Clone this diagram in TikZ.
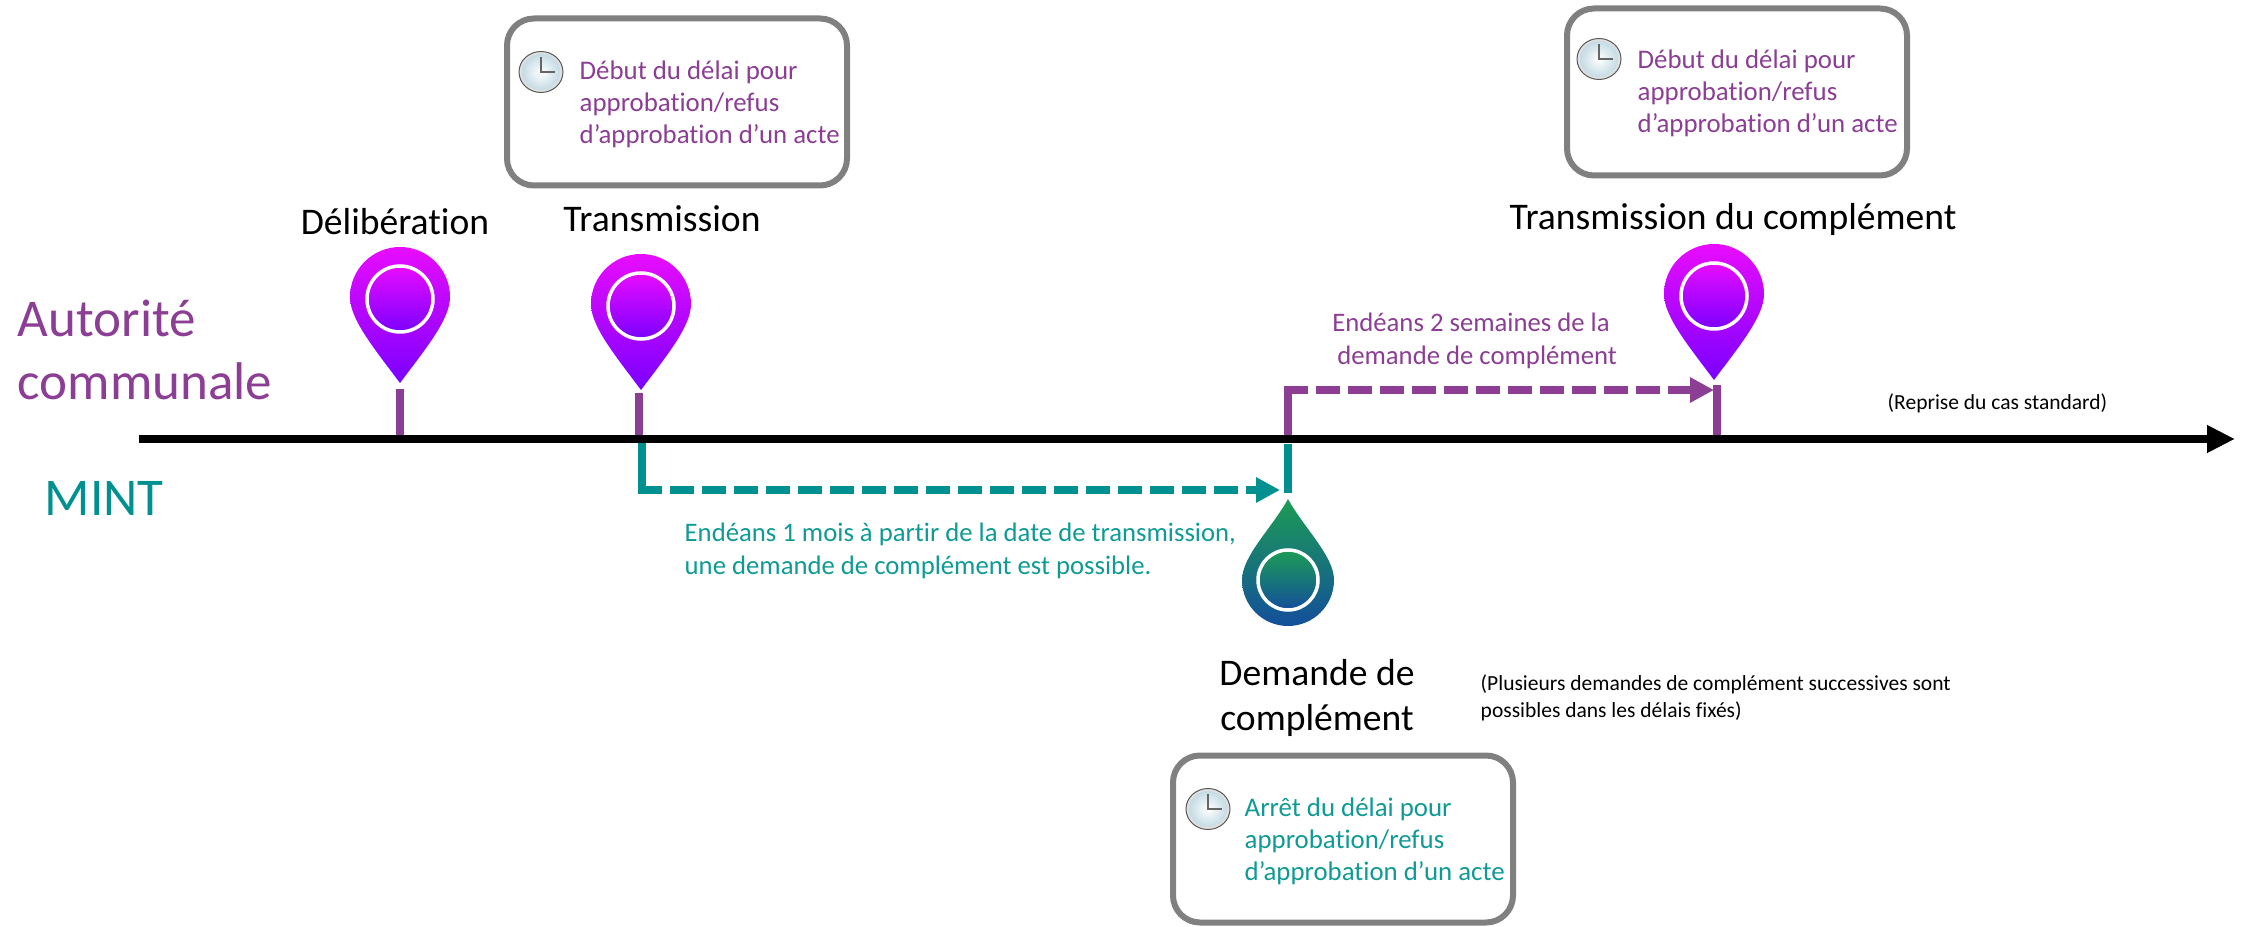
\documentclass[tikz,border=0pt]{standalone}
\usepackage{fontspec}
\setmainfont{Carlito}[Ligatures=NoCommon]
\usepackage{xcolor}
\usetikzlibrary{arrows.meta}
\definecolor{communal}{HTML}{8B3E94}
\definecolor{mint}{HTML}{009090}
\definecolor{minttext}{HTML}{0F9A94}
\definecolor{boxgray}{HTML}{808080}
\definecolor{pintop}{HTML}{E80CFF}
\definecolor{pinbottom}{HTML}{7A00FF}
\definecolor{droptop}{HTML}{1C9C55}
\definecolor{dropbottom}{HTML}{134F9B}
\definecolor{clockface}{HTML}{C4DBE4}
\tikzstyle{delaybox} = [rectangle, rounded corners=0.27cm, minimum width=3.40cm, minimum height=1.67cm, draw=boxgray, line width=0.06cm]
\tikzstyle{delaytext} = [align=left, anchor=west, inner sep=0pt, font=\fontsize{7.64}{9.1}\selectfont]
\tikzstyle{event} = [align=center, inner sep=0pt, font=\fontsize{10.7}{11.2}\selectfont]
\tikzstyle{actor} = [align=left, anchor=west, inner sep=0pt, font=\fontsize{15.1}{17.7}\selectfont]
\tikzstyle{delaynote} = [inner sep=0pt, font=\fontsize{7.6}{9.3}\selectfont]
\tikzstyle{smallnote} = [align=left, anchor=west, inner sep=0pt, font=\fontsize{6.12}{7.8}\selectfont]
\tikzstyle{stem} = [line width=0.08cm]
\tikzstyle{arrow} = [line width=0.08cm, dash pattern=on 0.24cm off 0.08cm, -{Triangle[length=0.24cm, width=0.24cm]}]
\tikzset{
  pics/pin/.style={code={
    \shade [top color=pintop, bottom color=pinbottom] (0,-0.84) .. controls (-0.27,-0.48) and (-0.5,-0.2) .. (-0.5,0.02) arc (180:0:0.5) .. controls (0.5,-0.2) and (0.27,-0.48) .. (0,-0.84) -- cycle;
    \shadedraw [top color=pintop, bottom color=pinbottom, draw=white, line width=0.035cm] (0,0) circle (0.33);
  }},
  pics/drop/.style={code={
    \shade [top color=droptop, bottom color=dropbottom] (0,0.81) .. controls (-0.16,0.52) and (-0.46,0.24) .. (-0.46,0) arc (180:360:0.46) .. controls (0.46,0.24) and (0.16,0.52) .. (0,0.81) -- cycle;
    \shadedraw [top color=droptop, bottom color=dropbottom, draw=white, line width=0.035cm] (0,0) circle (0.30);
  }},
  pics/clock/.style={code={
    \draw [draw=black!65, fill=black!12, line width=0.01cm] (0,0) ellipse (0.22 and 0.205);
    \shade [inner color=white, outer color=clockface] (0,0) ellipse (0.19 and 0.18);
    \draw [black!60, line width=0.014cm] (0,0.15) -- (0,0) -- (0.14,0);
  }}
}

\begin{document}
\begin{tikzpicture}
  \useasboundingbox (0,0) rectangle (22.42,9.26);

  % time line
  \coordinate (axisstart) at (1.39,4.87);
  \coordinate (axisend) at (22.35,4.87);

  % markers
  \pic (delibpin) at (4.00,6.27) {pin};
  \pic (transpin) at (6.41,6.20) {pin};
  \pic (complpin) at (17.14,6.30) {pin};
  \pic (demandpin) at (12.88,3.46) {drop};

  % stems
  \coordinate (delibtop) at (4.00,5.37);
  \coordinate (transtop) at (6.39,5.33);
  \coordinate (compltop) at (17.17,5.41);
  \coordinate (demandstart) at (12.88,4.87);
  \coordinate (demandtop) at (12.88,4.82);
  \coordinate (demandbottom) at (12.88,4.33);
  \coordinate (transcorner) at (6.42,4.36);
  \coordinate (demandend) at (12.80,4.36);
  \coordinate (complcorner) at (12.88,5.36);
  \coordinate (complend) at (17.14,5.36);

  \draw [stem, communal] (delibtop) -- (delibtop |- axisstart);
  \draw [stem, communal] (transtop) -- (transtop |- axisstart);
  \draw [stem, communal] (compltop) -- (compltop |- axisstart);
  \draw [stem, mint] (demandtop) -- (demandbottom);
  \draw [stem, mint] (transcorner |- axisstart) -- (transcorner) -- ++(0.2,0);
  \draw [arrow, mint] ([xshift=0.28cm]transcorner) -- (demandend);
  \draw [stem, communal] (demandstart) -- (complcorner) -- ++(0.2,0);
  \draw [arrow, communal] ([xshift=0.28cm]complcorner) -- (complend);
  \draw [line width=0.08cm, -{Triangle[length=0.28cm, width=0.26cm]}] (axisstart) -- (axisend);

  % actors
  \node (communale) [actor, text=communal] at (0.17,5.76) {Autorité\\communale};
  \node (mintname) [actor, text=mint] at (0.44,4.28) {MINT};

  % event labels
  \node (delib) [event] at (3.95,7.04) {Délibération};
  \node (trans) [event] at (6.62,7.07) {Transmission};
  \node (compl) [event] at (17.33,7.07) {Transmission du complément};
  \node (demand) [event, font=\fontsize{10.7}{13.0}\selectfont] at (13.17,2.28) {Demande de\\complément};

  % delay boxes
  \node (boxdebut) [delaybox] at (6.77,8.24) {};
  \pic (clockdebut) at (5.41,8.54) {clock};
  \node (textdebut) [delaytext, text=communal] at (5.79,8.22) {Début du délai pour\\approbation/refus\\d’approbation d’un acte};

  \node (boxreprise) [delaybox] at (17.37,8.34) {};
  \pic (clockreprise) at (15.99,8.67) {clock};
  \node (textreprise) [delaytext, text=communal] at (16.37,8.33) {Début du délai pour\\approbation/refus\\d’approbation d’un acte};

  \node (boxarret) [delaybox] at (13.43,0.87) {};
  \pic (clockarret) at (12.08,1.17) {clock};
  \node (textarret) [delaytext, text=minttext] at (12.44,0.85) {Arrêt du délai pour\\approbation/refus\\d’approbation d’un acte};

  % delay labels
  \node (monthnote) [delaynote, align=left, anchor=west, text=minttext] at (6.84,3.75) {Endéans 1 mois à partir de la date de transmission,\\une demande de complément est possible.};
  \node (weeksnote) [delaynote, align=center, text=communal] at (14.71,5.85) {Endéans 2 semaines de la\\\ \ demande de complément};

  % side notes
  \node (reprisenote) [smallnote] at (18.87,5.23) {(Reprise du cas standard)};
  \node (severalnote) [smallnote] at (14.80,2.28) {(Plusieurs demandes de complément successives sont\\possibles dans les délais fixés)};
\end{tikzpicture}
\end{document}
